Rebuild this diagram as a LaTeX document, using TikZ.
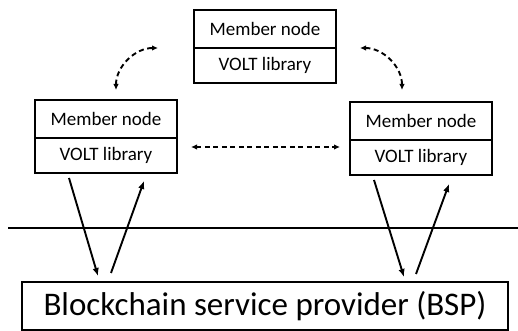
\documentclass[tikz,border=0pt]{standalone}
\usepackage{fontspec}
\setmainfont{Carlito}
\usetikzlibrary{arrows.meta}
\begin{document}
\begin{tikzpicture}[x=1pt,y=1pt,
  cell/.style={draw, line width=2pt, minimum width=142pt, inner sep=0pt, font=\fontsize{19}{21}\selectfont},
  topcell/.style={cell, minimum height=38pt},
  botcell/.style={cell, minimum height=35pt},
  solidarr/.style={line width=1.9pt, -{Latex[length=8pt,width=6.5pt]}},
  dasharr/.style={line width=1.9pt, dash pattern=on 5pt off 3.5pt, {Latex[length=6pt,width=5.5pt]}-{Latex[length=6pt,width=5.5pt]}}]
\useasboundingbox (0,0) rectangle (518,331);
% boxes
\node[topcell] (tm) at (265,302) {Member node};
\node[botcell] (tv) at (265,265.5) {VOLT library};
\node[topcell] (lm) at (106,212) {Member node};
\node[botcell] (lv) at (106,175.5) {VOLT library};
\node[topcell] (rm) at (421,210) {Member node};
\node[botcell] (rv) at (421,173.5) {VOLT library};
\node[draw, line width=2pt, minimum width=486pt, minimum height=48pt, inner sep=0pt,
      font=\fontsize{33}{36}\selectfont] (bsp) at (265,25) {Blockchain service provider (BSP)};
% separator line
\coordinate (sepL) at (8,103);
\coordinate (sepR) at (518,103);
\draw[line width=2pt] (sepL) -- (sepR);
% solid arrows
\coordinate (ld1) at (69,153); \coordinate (ld2) at (98,55);
\coordinate (lu1) at (111,58); \coordinate (lu2) at (144,150);
\coordinate (rd1) at (374,151); \coordinate (rd2) at (404,54);
\coordinate (ru1) at (416,57); \coordinate (ru2) at (449,147);
\draw[solidarr] (ld1) -- (ld2);
\draw[solidarr] (lu1) -- (lu2);
\draw[solidarr] (rd1) -- (rd2);
\draw[solidarr] (ru1) -- (ru2);
% dashed arrows
\coordinate (hl) at (191,184); \coordinate (hr) at (340,184);
\draw[dasharr] (hl) -- (hr);
\coordinate (cl1) at (116,241); \coordinate (cl2) at (158,283);
\draw[dasharr] (cl1) to[out=90,in=180] (cl2);
\coordinate (cr1) at (360,283); \coordinate (cr2) at (402,241);
\draw[dasharr] (cr1) to[out=0,in=90] (cr2);
\end{tikzpicture}
\end{document}
